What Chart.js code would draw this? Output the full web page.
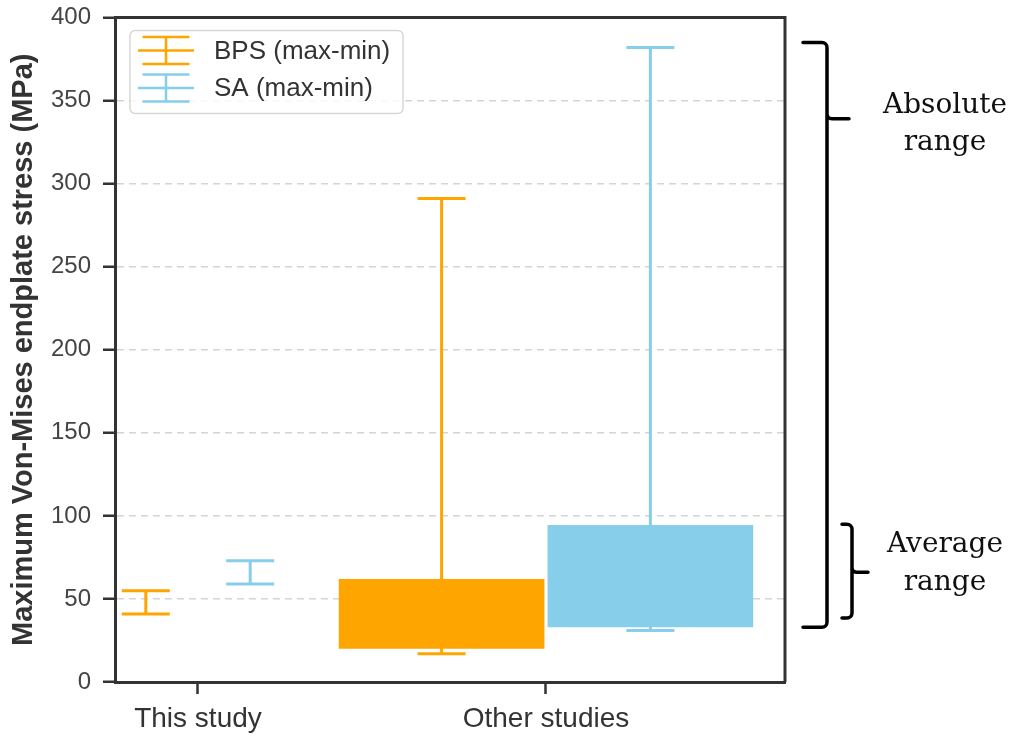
<!DOCTYPE html>
<html>
<head>
<meta charset="utf-8">
<script src="https://cdn.jsdelivr.net/npm/chart.js@4.4.0/dist/chart.umd.min.js"></script>
<style>
  body { margin: 0; background: #fff; }
  #wrap { width: 1014px; height: 734px; }
</style>
</head>
<body>
<div id="wrap"><canvas id="stress-chart"></canvas></div>
<script>
// categories on the x axis and the two series
var categories = ['This study', 'Other studies'];
var seriesNames = ['BPS (max-min)', 'SA (max-min)'];

// this study: max-min range per series (BPS, SA)
var thisStudyMin = [41, 59];
var thisStudyMax = [55, 73];

// other studies: absolute range (whiskers) and average range (boxes)
var otherAbsMin = [17, 31];
var otherAbsMax = [291, 382];
var otherAvgMin = [20, 33];
var otherAvgMax = [62, 94.5];

// y ticks
var yTicks = [0, 50, 100, 150, 200, 250, 300, 350, 400];

// side annotations: [low, high, tip] in MPa
var bracketAbsolute = [33, 385, 339];
var bracketAverage = [38.5, 95, 66];

var ORANGE = '#FFA500', SKY = '#87CEEB';
var FONT = "'Liberation Sans', Arial, sans-serif";
var colors = [ORANGE, SKY];
var offThis = [-0.15, 0.15];   // x offset of each series in "This study"
var offOther = [-0.3, 0.3];    // x offset of each series in "Other studies"

function whiskerPoints(i) {
    var xa = 0 + offThis[i], xb = 1 + offOther[i];
    return [
        { x: xa, y: thisStudyMin[i] }, { x: xa, y: thisStudyMax[i] },
        { x: (xa + xb) / 2, y: null },
        { x: xb, y: otherAbsMin[i] }, { x: xb, y: otherAbsMax[i] }
    ];
}

var datasets = [];
for (var i = 0; i < seriesNames.length; i++) {
    datasets.push({
        type: 'line', label: seriesNames[i], data: whiskerPoints(i),
        borderColor: colors[i], backgroundColor: colors[i], borderWidth: 3,
        pointStyle: 'line', pointRadius: 24, pointBorderWidth: 3, pointBorderColor: colors[i],
        spanGaps: false, fill: false
    });
}
datasets.push({
    type: 'bar', label: 'average',
    data: seriesNames.map(function (n, i) { return { x: 1 + offOther[i], y: [otherAvgMin[i], otherAvgMax[i]] }; }),
    backgroundColor: colors, borderWidth: 0,
    grouped: false, categoryPercentage: 1, barPercentage: 0.985
});

// legend drawn inside the axes, matplotlib style
var legendBox = {
    id: 'legendBox',
    afterDraw: function (chart) {
        var ctx = chart.ctx, a = chart.chartArea;
        var x0 = a.left + 15, y0 = a.top + 13, w = 273, h = 83;
        ctx.save();
        ctx.fillStyle = 'rgba(255,255,255,0.8)';
        ctx.strokeStyle = '#d8d8d8';
        ctx.lineWidth = 1.5;
        ctx.beginPath();
        ctx.roundRect(x0, y0, w, h, 5);
        ctx.fill();
        ctx.stroke();
        chart.data.datasets.filter(function (d) { return d.type === 'line'; }).forEach(function (ds, i) {
            var cy = y0 + 20 + i * 37.5, cx = x0 + 36;
            ctx.strokeStyle = ds.borderColor;
            ctx.lineWidth = 2.5;
            ctx.beginPath();
            ctx.moveTo(cx - 28, cy); ctx.lineTo(cx + 28, cy);
            ctx.moveTo(cx - 23.5, cy - 13.5); ctx.lineTo(cx + 23.5, cy - 13.5);
            ctx.moveTo(cx - 23.5, cy + 13.5); ctx.lineTo(cx + 23.5, cy + 13.5);
            ctx.moveTo(cx, cy - 13.5); ctx.lineTo(cx, cy + 13.5);
            ctx.stroke();
            ctx.fillStyle = '#333';
            ctx.font = '26px ' + FONT;
            ctx.textBaseline = 'middle';
            ctx.fillText(ds.label, x0 + 84, cy + 1);
        });
        ctx.restore();
    }
};

// top and right spines
var frame = {
    id: 'frame',
    afterDraw: function (chart) {
        var ctx = chart.ctx, a = chart.chartArea;
        ctx.save();
        ctx.strokeStyle = '#333';
        ctx.lineWidth = 3;
        ctx.beginPath();
        ctx.moveTo(a.left, a.top); ctx.lineTo(a.right, a.top); ctx.lineTo(a.right, a.bottom);
        ctx.stroke();
        ctx.restore();
    }
};

function drawBracket(ctx, xl, xv, xt, yTop, yBot, yTip) {
    var r = 5;
    ctx.beginPath();
    ctx.moveTo(xl, yTop);
    ctx.arcTo(xv, yTop, xv, yTop + r * 2, r);
    ctx.arcTo(xv, yTip, xt, yTip, r);
    ctx.lineTo(xt, yTip);
    ctx.moveTo(xv, yTip - r);
    ctx.arcTo(xv, yBot, xl, yBot, r);
    ctx.lineTo(xl, yBot);
    ctx.stroke();
}

var brackets = {
    id: 'brackets',
    afterDraw: function (chart) {
        var ctx = chart.ctx, a = chart.chartArea, y = chart.scales.y;
        ctx.save();
        ctx.strokeStyle = '#000';
        ctx.lineWidth = 3.5;
        ctx.lineCap = 'round';
        drawBracket(ctx, a.right + 18, a.right + 42, a.right + 64,
            y.getPixelForValue(bracketAbsolute[1]), y.getPixelForValue(bracketAbsolute[0]), y.getPixelForValue(bracketAbsolute[2]));
        drawBracket(ctx, a.right + 57, a.right + 67, a.right + 83,
            y.getPixelForValue(bracketAverage[1]), y.getPixelForValue(bracketAverage[0]), y.getPixelForValue(bracketAverage[2]));
        ctx.fillStyle = '#111';
        ctx.font = "28px 'DejaVu Serif', serif";
        ctx.textAlign = 'center';
        ctx.textBaseline = 'alphabetic';
        var tx = a.right + 160;
        var tipA = y.getPixelForValue(bracketAbsolute[2]);
        ctx.fillText('Absolute', tx, tipA - 6);
        ctx.fillText('range', tx, tipA + 31);
        var tipB = y.getPixelForValue(bracketAverage[2]);
        ctx.fillText('Average', tx, tipB - 20);
        ctx.fillText('range', tx, tipB + 18);
        ctx.restore();
    }
};

var canvas = document.getElementById('stress-chart');
var stressChart = new Chart(canvas.getContext('2d'), {
    type: 'bar',
    data: { datasets: datasets },
    plugins: [frame, legendBox, brackets],
    options: {
        responsive: true,
        maintainAspectRatio: false,
        animation: false,
        events: [],
        layout: { autoPadding: false, padding: { left: 0, right: 229, top: 17.5, bottom: 0 } },
        plugins: { legend: { display: false }, tooltip: { enabled: false } },
        scales: {
            x: {
                type: 'linear',
                min: -0.2385, max: 1.6868,
                offset: false,
                grid: { display: true, drawOnChartArea: false, drawTicks: true, offset: false,
                        tickLength: 12, tickWidth: 2.5, tickColor: '#333' },
                border: { display: true, color: '#333', width: 3 },
                afterBuildTicks: function (scale) {
                    scale.ticks = categories.map(function (c, i) { return { value: i }; });
                },
                afterFit: function (scale) { scale.height = 52; },
                ticks: {
                    padding: 8, color: '#333',
                    font: { family: FONT, size: 28 },
                    callback: function (v) { return categories[v]; }
                }
            },
            y: {
                min: 0, max: 400,
                afterBuildTicks: function (scale) {
                    scale.ticks = yTicks.map(function (v) { return { value: v }; });
                },
                afterFit: function (scale) {
                    scale.width = 115;
                    scale.paddingTop = 0;
                    scale.paddingBottom = 0;
                },
                grid: { color: '#d4d4d4', lineWidth: 1.5, drawTicks: true, tickLength: 12,
                        tickWidth: 2.5, tickColor: '#333', tickBorderDash: [] },
                border: { display: true, color: '#333', width: 3, dash: [7, 5] },
                ticks: { padding: 12, color: '#444', font: { family: FONT, size: 24, lineHeight: 0.05 } },
                title: {
                    display: true,
                    text: 'Maximum Von-Mises endplate stress (MPa)',
                    color: '#333',
                    font: { family: FONT, size: 29, weight: 'bold' },
                    padding: { top: 7, bottom: 0 }
                }
            }
        }
    }
});
</script>
</body>
</html>
